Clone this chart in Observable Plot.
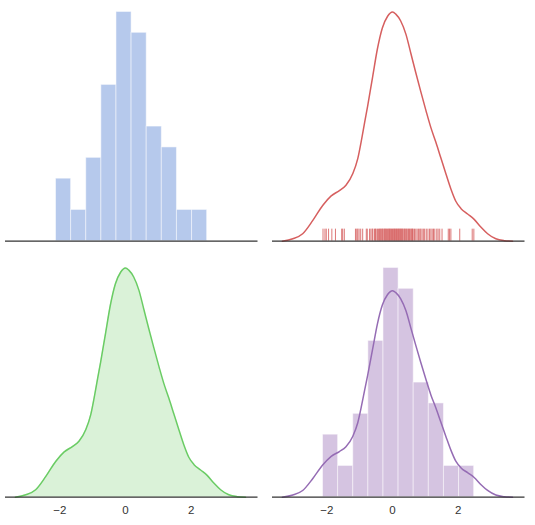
<!DOCTYPE html>
<html>
<head>
<meta charset="utf-8">
<script src="https://cdn.jsdelivr.net/npm/d3@7"></script>
<script src="https://cdn.jsdelivr.net/npm/@observablehq/plot@0.6"></script>
<style>
  html, body { margin: 0; padding: 0; background: #fff; }
  #wrap { position: relative; width: 535px; height: 525px; }
</style>
</head>
<body>
<div id="wrap"></div>
<script>
// ---- data ----
const binEdges = [-2.12, -1.659, -1.198, -0.737, -0.276, 0.185, 0.646, 1.107, 1.568, 2.029, 2.49];
const binCounts = [6, 3, 8, 15, 22, 20, 11, 9, 3, 3];
const sampleSize = 100;

// rug (observations)
const rugValues = [
  -2.12, -2.06, -2.02, -1.95, -1.85, -1.74,
  -1.55, -1.52, -1.47,
  -1.13, -1.09, -1.06, -1.02, -0.97, -0.91, -0.80, -0.77,
  -0.70, -0.66, -0.62, -0.60, -0.55, -0.52, -0.50, -0.46, -0.43, -0.40, -0.38, -0.36, -0.33, -0.31, -0.29,
  -0.26, -0.24, -0.22, -0.20, -0.18, -0.15, -0.13, -0.11, -0.09, -0.07, -0.05, -0.03, 0.00, 0.02, 0.04, 0.06, 0.08, 0.10, 0.12, 0.14, 0.16, 0.18,
  0.20, 0.22, 0.24, 0.26, 0.28, 0.30, 0.32, 0.35, 0.37, 0.39, 0.42, 0.44, 0.47, 0.49, 0.52, 0.54, 0.57, 0.59, 0.61, 0.63,
  0.67, 0.71, 0.75, 0.79, 0.83, 0.86, 0.90, 0.94, 0.98, 1.03, 1.08,
  1.13, 1.17, 1.21, 1.25, 1.29, 1.35, 1.39, 1.44, 1.51,
  1.70, 1.74, 1.78,
  2.05, 2.43, 2.48
];

// KDE curve (x, density)
const kdeX = [-3.36, -3.04, -2.74, -2.43, -2.13, -1.87, -1.62, -1.42, -1.21, -1.06, -0.94, -0.85, -0.76, -0.61, -0.46, -0.31, -0.15, 0.00, 0.10, 0.25, 0.41, 0.56, 0.71, 0.86, 1.02, 1.17, 1.32, 1.47, 1.63, 1.78, 1.93, 2.09, 2.29, 2.49, 2.70, 2.90, 3.15, 3.41, 3.66];
const kdeY = [0.000, 0.0045, 0.014, 0.039, 0.067, 0.085, 0.095, 0.105, 0.127, 0.155, 0.192, 0.223, 0.253, 0.307, 0.361, 0.400, 0.422, 0.430, 0.426, 0.413, 0.388, 0.352, 0.316, 0.281, 0.245, 0.213, 0.186, 0.157, 0.126, 0.098, 0.075, 0.061, 0.051, 0.041, 0.026, 0.014, 0.0045, 0.001, 0.000];

const xTicks = [-2, 0, 2];

// ---- derived tables ----
const bins = binCounts.map((c, i) => ({x1: binEdges[i], x2: binEdges[i + 1], count: c,
  density: c / (sampleSize * (binEdges[i + 1] - binEdges[i]))}));
const kde = kdeX.map((x, i) => ({x, y: kdeY[i]}));

const colors = {b: "#4878D0", g: "#6ACC64", r: "#D65F5F", m: "#956CB4"};
const xDomain = [-3.66, 4.04];
const spine = "#333333";
const font = "'Liberation Sans', Arial, sans-serif";

function panel({left, top, width, height, mLeft, mRight, mTop, mBottom, ymax, marks, axis}) {
  const p = Plot.plot({
    width, height,
    marginLeft: mLeft, marginRight: mRight, marginTop: mTop, marginBottom: mBottom,
    style: {fontFamily: font, fontSize: "11px", background: "transparent", overflow: "visible"},
    x: {domain: xDomain, axis: null},
    y: {domain: [0, ymax * 1.05], axis: null},
    marks: [
      ...marks,
      Plot.ruleY([0], {stroke: spine, strokeWidth: 1.3}),
      ...(axis ? [Plot.axisX({ticks: xTicks, tickSize: 0, tickPadding: 9, fill: "#333", fontSize: 11.5, label: null})] : [])
    ]
  });
  p.style.position = "absolute";
  p.style.left = left + "px";
  p.style.top = top + "px";
  document.getElementById("wrap").appendChild(p);
}

const countMax = d3.max(binCounts);
const densMax = d3.max(bins, d => d.density);
const kdeMax = d3.max(kdeY);
const curve = "monotone-x";

// top-left: count histogram
panel({left: 0, top: 0, width: 265, height: 250, mLeft: 5, mRight: 7.5, mTop: 0, mBottom: 9.3,
  ymax: countMax,
  marks: [Plot.rectY(bins, {x1: "x1", x2: "x2", y: "count", fill: colors.b, fillOpacity: 0.4,
    stroke: "white", strokeOpacity: 0.5, strokeWidth: 1})]});

// top-right: kde line + rug
panel({left: 265, top: 0, width: 265, height: 250, mLeft: 7, mRight: 5.5, mTop: 0, mBottom: 9.3,
  ymax: kdeMax,
  marks: [
    Plot.line(kde, {x: "x", y: "y", stroke: colors.r, strokeWidth: 1.5, curve}),
    Plot.ruleX(rugValues, {x: d => d, y1: 0, y2: kdeMax * 1.05 * 0.05, stroke: colors.r, strokeWidth: 1, strokeOpacity: 0.85})
  ]});

// bottom-left: shaded kde
panel({left: 0, top: 250, width: 265, height: 275, mLeft: 5, mRight: 7.5, mTop: 6, mBottom: 28.3,
  ymax: kdeMax, axis: true,
  marks: [
    Plot.areaY(kde, {x: "x", y: "y", fill: colors.g, fillOpacity: 0.25, curve}),
    Plot.line(kde, {x: "x", y: "y", stroke: colors.g, strokeWidth: 1.5, curve})
  ]});

// bottom-right: density histogram + kde
panel({left: 265, top: 250, width: 265, height: 275, mLeft: 7, mRight: 5.5, mTop: 6, mBottom: 28.3,
  ymax: densMax, axis: true,
  marks: [
    Plot.rectY(bins, {x1: "x1", x2: "x2", y: "density", fill: colors.m, fillOpacity: 0.4,
      stroke: "white", strokeOpacity: 0.5, strokeWidth: 1}),
    Plot.line(kde, {x: "x", y: "y", stroke: colors.m, strokeWidth: 1.5, curve})
  ]});
</script>
</body>
</html>
